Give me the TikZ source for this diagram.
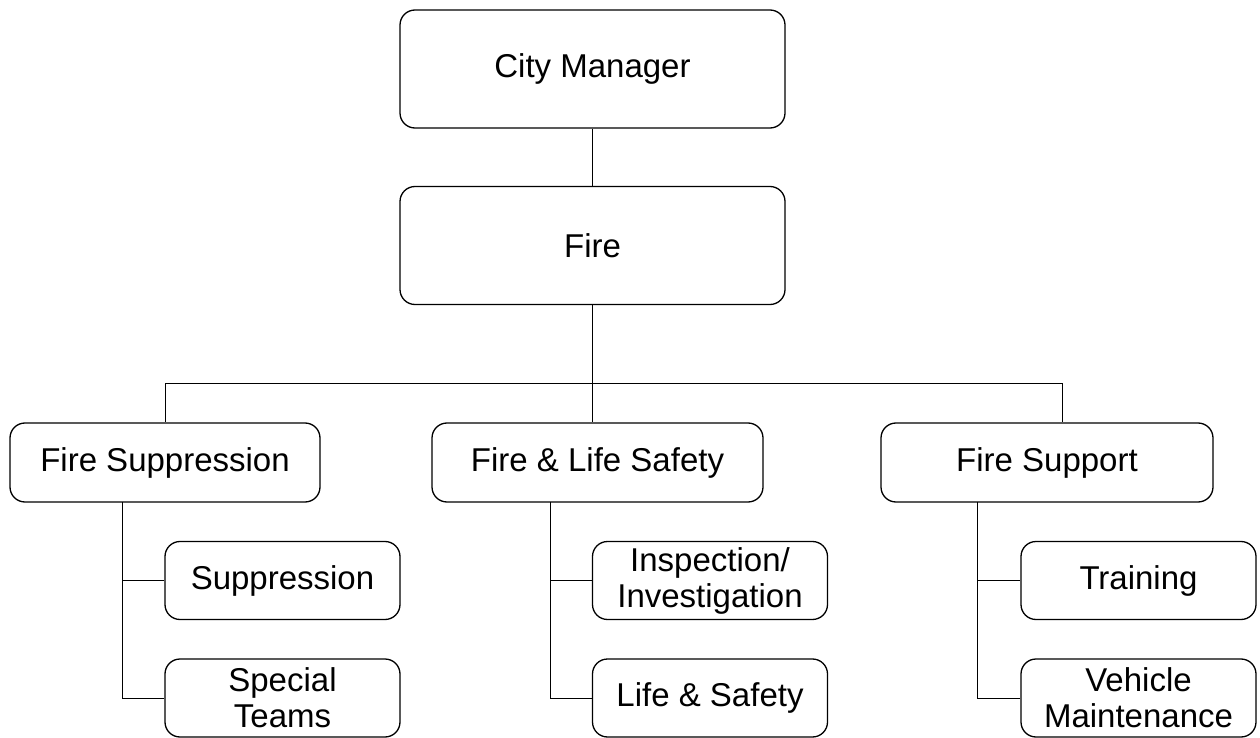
\documentclass[tikz,border=0pt]{standalone}
\usepackage{fontspec}
\setmainfont{Liberation Sans}
\tikzset{
  orgbox/.style={draw, rounded corners=7.5pt, line width=0.65pt, align=center,
    font=\fontsize{16.5}{18}\selectfont, inner sep=0pt},
  topbox/.style={orgbox, minimum width=192.5pt, minimum height=59pt},
  unitbox/.style={orgbox, minimum width=#1, minimum height=39.5pt},
  subbox/.style={orgbox, minimum width=117.5pt, minimum height=39pt},
  link/.style={line width=0.5pt}
}
\begin{document}
\begin{tikzpicture}[x=0.5pt,y=-0.5pt]
\useasboundingbox (0,0) rectangle (1260,738);
\node[topbox] (cm) at (592.5,69) {City Manager};
\node[topbox] (fire) at (592.5,245.5) {Fire};
\node[unitbox=155pt] (supp) at (165,462.5) {Fire Suppression};
\node[unitbox=165.5pt] (safety) at (597.5,462.5) {Fire \& Life Safety};
\node[unitbox=166pt] (support) at (1047,462.5) {Fire Support};
\node[subbox] (suppr) at (282.5,580.5) {Suppression};
\node[subbox] (teams) at (282.5,698) {Special\\Teams};
\node[subbox] (insp) at (710,580.5) {Inspection/\\Investigation};
\node[subbox] (life) at (710,698) {Life \& Safety};
\node[subbox] (train) at (1138.5,580.5) {Training};
\node[subbox] (vehicle) at (1138.5,698) {Vehicle\\Maintenance};
\coordinate (bus) at (592.5,383);
\coordinate (busL) at (165,383);
\coordinate (busR) at (1062.5,383);
\coordinate (s1) at (122.5,502);
\coordinate (s2) at (550,502);
\coordinate (s3) at (977.5,502);
\draw[link] (cm) -- (fire);
\draw[link] (fire) -- (bus);
\draw[link] (busL) -- (busR);
\draw[link] (busL) -- (supp);
\draw[link] (bus) -- (bus |- safety.north);
\draw[link] (busR) -- (busR |- support.north);
\draw[link] (s1) |- (suppr.west);
\draw[link] (s1) |- (teams.west);
\draw[link] (s2) |- (insp.west);
\draw[link] (s2) |- (life.west);
\draw[link] (s3) |- (train.west);
\draw[link] (s3) |- (vehicle.west);
\end{tikzpicture}
\end{document}
